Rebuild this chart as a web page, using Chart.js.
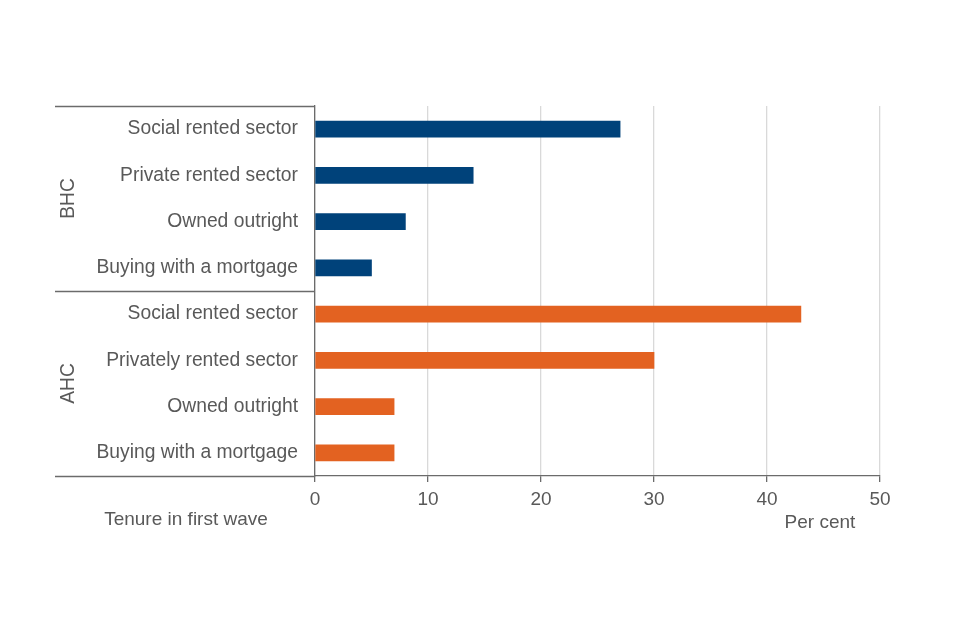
<!DOCTYPE html>
<html>
<head>
<meta charset="utf-8">
<script src="https://cdn.jsdelivr.net/npm/chart.js@4"></script>
<style>
  html, body { margin: 0; padding: 0; background: #fff; }
  #wrap { width: 960px; height: 640px; }
</style>
</head>
<body>
<div id="wrap"><canvas id="tenureChart" width="960" height="640"></canvas></div>
<script>
// Datos del gráfico
const bhcLabels = ['Social rented sector', 'Private rented sector', 'Owned outright', 'Buying with a mortgage'];
const ahcLabels = ['Social rented sector', 'Privately rented sector', 'Owned outright', 'Buying with a mortgage'];
const bhcValues = [27, 14, 8, 5];
const ahcValues = [43, 30, 7, 7];
const groupNames = ['BHC', 'AHC'];
const xTicks = [0, 10, 20, 30, 40, 50];

const textColor = '#595959';
const axisColor = '#6b6b6b';
const blue = '#00427a';
const orange = '#e36221';
const fontFamily = '"Liberation Sans", Arial, sans-serif';

const labels = bhcLabels.concat(ahcLabels);
const values = bhcValues.concat(ahcValues);
const colors = bhcValues.map(() => blue).concat(ahcValues.map(() => orange));

// Plugin para los corchetes de grupo y los títulos
const groupPlugin = {
    id: 'groupBrackets',
    afterDraw(chart) {
        const { ctx, chartArea, scales } = chart;
        const y = scales.y;
        const step = (chartArea.bottom - chartArea.top) / labels.length;
        const leftX = 55;
        ctx.save();
        ctx.strokeStyle = axisColor;
        ctx.lineWidth = 1.3;
        // líneas horizontales de separación
        [0, bhcLabels.length, labels.length].forEach(i => {
            const yy = Math.round(chartArea.top + i * step) + 0.5;
            ctx.beginPath();
            ctx.moveTo(leftX, yy);
            ctx.lineTo(chartArea.left, yy);
            ctx.stroke();
        });
        // etiquetas de grupo giradas
        ctx.fillStyle = textColor;
        ctx.font = '19.3px ' + fontFamily;
        ctx.textAlign = 'center';
        ctx.textBaseline = 'middle';
        const groups = [[0, bhcLabels.length], [bhcLabels.length, labels.length]];
        groups.forEach((g, i) => {
            const mid = (y.getPixelForValue(g[0]) + y.getPixelForValue(g[1] - 1)) / 2;
            ctx.save();
            ctx.translate(69, mid);
            ctx.rotate(-Math.PI / 2);
            ctx.fillText(groupNames[i], 0, 0);
            ctx.restore();
        });
        // títulos de ejes
        ctx.font = '19px ' + fontFamily;
        ctx.fillText('Tenure in first wave', 186, 520);
        ctx.fillText('Per cent', 820, 523);
        ctx.restore();
    }
};

const ctx = document.getElementById('tenureChart').getContext('2d');
new Chart(ctx, {
    type: 'bar',
    data: {
        labels: labels,
        datasets: [{
            data: values,
            backgroundColor: colors,
            barThickness: 16,
        }]
    },
    options: {
        indexAxis: 'y',
        responsive: false,
        animation: false,
        layout: { padding: { top: 106, right: 80, left: 0, bottom: 0 } },
        plugins: {
            legend: { display: false },
            tooltip: { enabled: false }
        },
        scales: {
            x: {
                min: 0,
                max: 50,
                afterBuildTicks: (scale) => { scale.ticks = xTicks.map(v => ({ value: v })); },
                afterFit: (scale) => { scale.height = 164; },
                grid: { color: '#d9d9d9', lineWidth: 1.3, tickColor: axisColor, tickLength: 6 },
                border: { color: axisColor, width: 1.3 },
                ticks: { color: textColor, font: { size: 19, family: fontFamily }, padding: 6, maxRotation: 0 }
            },
            y: {
                afterFit: (scale) => { scale.width = 315; },
                grid: { display: false, drawTicks: false },
                border: { color: axisColor, width: 1.3 },
                ticks: { color: textColor, font: { size: 19.3, family: fontFamily }, padding: 17, autoSkip: false }
            }
        }
    },
    plugins: [groupPlugin]
});
</script>
</body>
</html>
